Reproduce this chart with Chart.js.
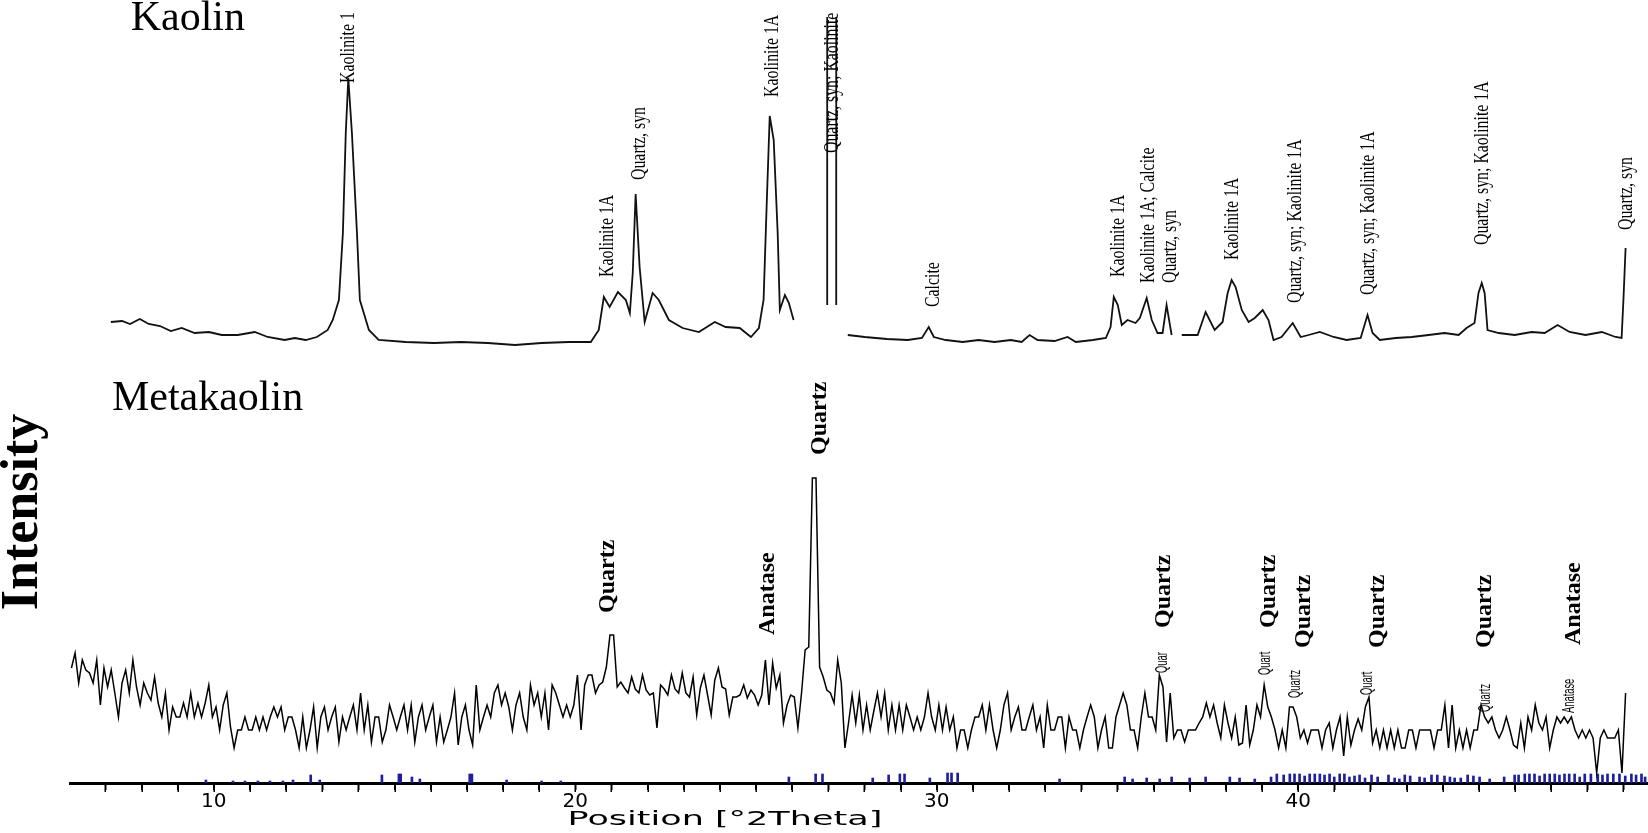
<!DOCTYPE html>
<html>
<head>
<meta charset="utf-8">
<script src="https://cdn.jsdelivr.net/npm/chart.js@4.4.0/dist/chart.umd.min.js"></script>
<style>
  html, body { margin: 0; padding: 0; background: #ffffff; }
  #wrap { width: 1648px; height: 833px; position: relative; }
</style>
</head>
<body>
<div id="wrap"><canvas id="c" width="1648" height="833"></canvas></div>
<script>
// ---------------- data ----------------
// x axis: position in degrees 2-theta; y: intensity (arbitrary units, patterns offset as plotted)
const xRange = [6.02, 49.68];
const xLabelledTicks = [10, 20, 30, 40];

// Kaolin pattern (upper trace), pieces separated where the scan is broken
const kaolinLeft = [[7.15,461],[7.46,462],[7.68,459],[7.95,464],[8.20,459],[8.51,457],[8.81,452],[9.11,455],[9.47,450],[9.86,451],[10.22,448],[10.66,448],[11.13,451],[11.49,446],[11.96,443],[12.24,445],[12.54,443],[12.85,446],[13.15,453],[13.29,463],[13.46,483],[13.57,550],[13.65,650],[13.72,705],[13.82,650],[13.96,550],[14.04,483],[14.29,453],[14.56,443],[15.31,441],[16.09,440],[16.83,441],[17.58,440],[18.33,438],[19.07,440],[19.82,441],[20.43,441],[20.65,453],[20.79,486],[20.95,476],[21.18,491],[21.40,483],[21.51,470],[21.59,510],[21.67,589],[21.78,516],[21.92,461],[22.14,490],[22.31,483],[22.59,463],[22.97,455],[23.42,451],[23.86,461],[24.16,456],[24.55,455],[24.86,446],[25.08,455],[25.21,483],[25.30,583],[25.38,667],[25.49,643],[25.60,550],[25.66,473],[25.80,488],[25.91,480],[26.04,463]];
const kaolinStrongLeft = [[26.97,478],[26.97,766]];
const kaolinStrongRight = [[27.22,766],[27.22,478]];
const kaolinRightA = [[27.54,448],[28.01,446],[28.62,444],[29.20,443],[29.59,445],[29.78,456],[29.92,446],[30.25,443],[30.72,441],[31.16,443],[31.60,441],[32.05,443],[32.35,441],[32.57,448],[32.79,443],[33.26,442],[33.62,446],[33.85,441],[34.32,443],[34.68,445],[34.81,456],[34.90,486],[35.01,478],[35.12,458],[35.28,463],[35.50,460],[35.62,465],[35.81,485],[35.95,463],[36.11,450],[36.25,450],[36.36,478],[36.50,448]];
const kaolinRightB = [[36.78,448],[37.22,448],[37.44,471],[37.69,453],[37.91,461],[38.05,490],[38.16,503],[38.27,496],[38.44,473],[38.63,461],[38.80,465],[39.02,473],[39.18,463],[39.32,443],[39.54,446],[39.85,460],[40.07,446],[40.29,448],[40.60,451],[40.98,446],[41.34,443],[41.73,445],[41.92,468],[42.06,450],[42.26,443],[42.70,445],[43.14,446],[43.61,448],[44.05,450],[44.44,448],[44.66,455],[44.88,460],[44.99,490],[45.08,500],[45.16,490],[45.24,453],[45.55,450],[45.99,448],[46.46,451],[46.82,450],[47.18,458],[47.51,451],[47.95,448],[48.40,451],[48.78,446],[48.95,445],[49.00,483],[49.06,535]];

// Metakaolin pattern (lower trace): counts on the scan grid
const metaStart = 6.06;   // first scan angle
const metaStep = 0.1;     // scan step size
const metakaolinCounts = [
115,130,100,123,113,110,100,123,78,115,96,113,90,66,100,113,90,123,96,78,100,90,83,106,80,66,90,53,
76,66,66,80,66,90,66,80,66,80,98,66,76,53,78,90,56,35,53,53,66,53,53,66,53,66,53,66,76,66,76,53,66,
66,53,35,66,35,53,76,35,66,76,53,
66,76,41,66,53,66,78,53,90,53,78,41,66,66,41,53,78,66,53,66,78,53,78,41,66,78,53,66,78,41,
66,41,53,66,90,38,66,78,53,38,98,53,66,78,66,90,98,78,90,76,53,78,90,66,53,98,78,90,66,90,
53,98,90,78,66,78,66,78,108,53,98,108,108,90,98,
101,116,148,148,96,101,95,90,106,94,90,108,93,88,90,55,98,94,88,108,94,90,110,90,86,106,68,95,108,88,
68,103,115,96,94,68,86,86,88,98,85,93,88,78,88,123,78,120,95,108,60,78,88,86,55,90,133,136,305,305,
116,106,93,90,80,123,100,
35,60,88,60,88,53,78,
53,72,90,66,90,53,78,53,78,53,78,66,53,66,53,66,90,66,53,78,53,76,53,66,35,53,53,35,53,66,
66,78,53,78,53,35,53,78,90,53,66,76,53,53,66,78,53,66,35,78,53,53,66,66,35,66,53,53,35,53,
66,78,66,35,53,66,35,35,66,78,90,78,53,53,35,
66,90,66,66,53,108,96,41,90,45,53,53,41,53,53,53,60,66,80,66,78,60,45,78,60,45,66,38,40,78,
38,53,78,66,98,76,66,53,35,53,35,76,76,66,45,53,40,53,53,53,35,53,60,35,53,66,27,66,38,53,
64,53,76,86,40,53,35,53,35,53,35,53,35,35,53,
53,35,53,53,53,53,35,53,53,78,35,78,35,53,35,53,35,53,53,78,66,60,66,53,45,53,66,53,38,35,
60,35,66,53,78,60,53,66,35,53,66,60,66,60,66,53,45,53,45,53,45,10,45,53,45,45,45,53,10,90
];

// reference pattern sticks along the axis
const refSticksTheta = [9.78,10.53,10.86,11.22,11.55,11.91,12.19,12.68,12.93,14.65,15.12,15.17,15.48,15.70,17.08,17.14,18.10,19.07,19.60,25.91,26.65,26.84,28.23,28.67,28.98,29.11,29.81,30.30,30.41,30.58,33.40,35.20,35.42,35.81,36.17,36.50,37.00,37.44,38.11,38.38,38.80,39.41,39.77,40.04,40.32,40.60,40.87,41.15,41.42,41.70,42.03,42.67,42.95,43.36,43.69,44.05,44.33,44.69,45.02,45.99,46.27,46.54,46.82,47.10,47.37,47.65,47.93,48.29,48.56,48.89,49.22,49.50,
  39.25,39.60,39.90,40.18,40.46,40.73,41.00,41.28,41.56,41.85,42.20,42.50,42.80,43.10,43.50,43.85,44.20,44.50,44.85,45.30,45.70,46.10,46.40,46.68,46.96,47.23,47.50,47.79,48.10,48.42,48.72,49.05,49.35,49.60];
const refSticksHeight = [3,2,2,2,2,2,3,8,3,8,9,9,6,4,9,9,3,2,2,6,9,9,5,8,9,9,5,10,10,10,4,6,4,5,4,6,5,6,6,5,4,9,9,9,9,9,9,9,6,8,8,5,8,6,8,7,5,8,6,8,9,9,9,9,9,9,9,9,9,9,9,9,
  6,8,9,7,9,8,6,9,7,5,6,8,4,7,5,8,6,5,7,4,6,8,9,7,9,8,9,6,9,8,9,7,8,6];

// phase labels: [text, 2theta, intensity at the start of the text]
const kaolinLabels = [
  ["Kaolinite 1", 13.71, 700],
  ["Kaolinite 1A", 20.87, 506],
  ["Quartz, syn", 21.78, 603],
  ["Kaolinite 1A", 25.44, 686],
  ["Quartz, syn; Kaolinite", 27.10, 630],
  ["Calcite", 29.89, 476],
  ["Kaolinite 1A", 35.01, 506],
  ["Kaolinite 1A; Calcite", 35.86, 500],
  ["Quartz, syn", 36.47, 500],
  ["Kaolinite 1A", 38.19, 523],
  ["Quartz, syn; Kaolinite 1A", 39.93, 480],
  ["Quartz, syn; Kaolinite 1A", 41.95, 488],
  ["Quartz, syn; Kaolinite 1A", 45.10, 538],
  ["Quartz, syn", 49.09, 553]
];
const metaBoldLabels = [
  ["Quartz", 20.90, 170],
  ["Anatase", 25.33, 148],
  ["Quartz", 26.76, 328],
  ["Quartz", 36.28, 155],
  ["Quartz", 39.18, 155],
  ["Quartz", 40.15, 135],
  ["Quartz", 42.20, 135],
  ["Quartz", 45.16, 135],
  ["Anatase", 47.62, 138]
];
const metaSmallLabels = [
  ["Quar", 36.25, 110],
  ["Quart", 39.10, 108],
  ["Quartz", 39.93, 85],
  ["Quart", 41.92, 88],
  ["Quartz", 45.19, 71],
  ["Anatase", 47.51, 70]
];
// pattern titles: [text, 2theta, intensity of baseline]
const patternTitles = [["Kaolin", 7.70, 753], ["Metakaolin", 7.18, 373]];
const yTitle = "Intensity";
const xTitle = "Position [\u00B02Theta]";
const xTitleCenter = 24.14;

// ---------------- build datasets ----------------
const toPts = arr => arr.map(p => ({x: p[0], y: p[1]}));
const gap = th => ({x: th, y: null});
const kaolinData = [].concat(
  toPts(kaolinLeft), [gap(26.5)],
  toPts(kaolinStrongLeft), [gap(27.1)],
  toPts(kaolinStrongRight), [gap(27.4)],
  toPts(kaolinRightA), [gap(36.64)],
  toPts(kaolinRightB)
);
const metaData = metakaolinCounts.map((c, i) => ({x: +(metaStart + i * metaStep).toFixed(2), y: c}));
const stickData = refSticksTheta.map((t, i) => ({x: t, y: refSticksHeight[i]}));

const textPlugin = {
  id: 'xrdText',
  afterDatasetsDraw(chart) {
    const {ctx, scales: {x, y}, chartArea} = chart;

    // minor tick marks every degree below the axis line
    ctx.save();
    ctx.strokeStyle = '#000';
    ctx.lineWidth = 1.5;
    for (let v = Math.ceil(x.min); v <= Math.floor(x.max); v++) {
      const px = Math.round(x.getPixelForValue(v)) + 0.25;
      ctx.beginPath();
      ctx.moveTo(px, chartArea.bottom + 1);
      ctx.lineTo(px, chartArea.bottom + 9);
      ctx.stroke();
    }
    ctx.restore();

    const rot = (text, th, val, font, squeeze) => {
      ctx.save();
      ctx.translate(x.getPixelForValue(th), y.getPixelForValue(val));
      ctx.rotate(-Math.PI / 2);
      ctx.scale(squeeze, 1);
      ctx.font = font;
      ctx.fillStyle = '#000';
      ctx.textAlign = 'left';
      ctx.textBaseline = 'middle';
      ctx.fillText(text, 0, 0);
      ctx.restore();
    };
    kaolinLabels.forEach(l => rot(l[0], l[1], l[2], '22px "Liberation Serif"', 0.72));
    metaBoldLabels.forEach(l => rot(l[0], l[1], l[2], 'bold 24px "Liberation Serif"', 1.0));
    metaSmallLabels.forEach(l => rot(l[0], l[1], l[2], '17px "Liberation Sans"', 0.55));

    ctx.save();
    ctx.fillStyle = '#000';
    ctx.font = '42px "Liberation Serif"';
    ctx.textAlign = 'left';
    ctx.textBaseline = 'alphabetic';
    patternTitles.forEach(t => ctx.fillText(t[0], x.getPixelForValue(t[1]), y.getPixelForValue(t[2])));
    ctx.restore();

    // y title
    ctx.save();
    ctx.translate(chartArea.left - 46, y.getPixelForValue(271));
    ctx.rotate(-Math.PI / 2);
    ctx.font = 'bold 52px "Liberation Serif"';
    ctx.fillStyle = '#000';
    ctx.textAlign = 'center';
    ctx.textBaseline = 'middle';
    ctx.fillText(yTitle, 0, 0);
    ctx.restore();

    // x title
    ctx.save();
    ctx.translate(x.getPixelForValue(xTitleCenter), chartArea.bottom + 37);
    ctx.scale(1.75, 1);
    ctx.font = '20px "DejaVu Sans"';
    ctx.fillStyle = '#000';
    ctx.textAlign = 'center';
    ctx.textBaseline = 'middle';
    ctx.fillText(xTitle, 0, 0);
    ctx.restore();
  }
};

new Chart(document.getElementById('c'), {
  type: 'line',
  data: {
    datasets: [
      {label: 'Kaolin', data: kaolinData, borderColor: '#111', borderWidth: 1.8, pointRadius: 0, tension: 0, spanGaps: false, fill: false, order: 2},
      {label: 'Metakaolin', data: metaData, borderColor: '#000', borderWidth: 1.5, pointRadius: 0, tension: 0, fill: false, order: 1},
      {type: 'bar', label: 'Reference', data: stickData, backgroundColor: '#1f1f9e', borderWidth: 0, barThickness: 2, order: 3}
    ]
  },
  options: {
    responsive: false,
    devicePixelRatio: 1,
    animation: false,
    events: [],
    layout: {padding: {left: 70, right: 0, top: 0, bottom: 19}},
    plugins: {legend: {display: false}, tooltip: {enabled: false}, title: {display: false}},
    scales: {
      x: {
        type: 'linear', min: xRange[0], max: xRange[1], offset: false,
        grid: {display: true, drawOnChartArea: false, drawTicks: true, tickLength: 7, color: '#000', tickColor: '#000', lineWidth: 1.5, tickWidth: 1.5, offset: false},
        border: {display: true, color: '#000', width: 3},
        ticks: {
          stepSize: 1, autoSkip: false, maxRotation: 0, includeBounds: false, padding: 0,
          color: '#000', font: {family: 'DejaVu Sans', size: 20},
          callback: v => xLabelledTicks.includes(v) ? String(v) : ''
        }
      },
      y: {type: 'linear', min: 0, max: 783, display: false}
    }
  },
  plugins: [textPlugin]
});
</script>
</body>
</html>
